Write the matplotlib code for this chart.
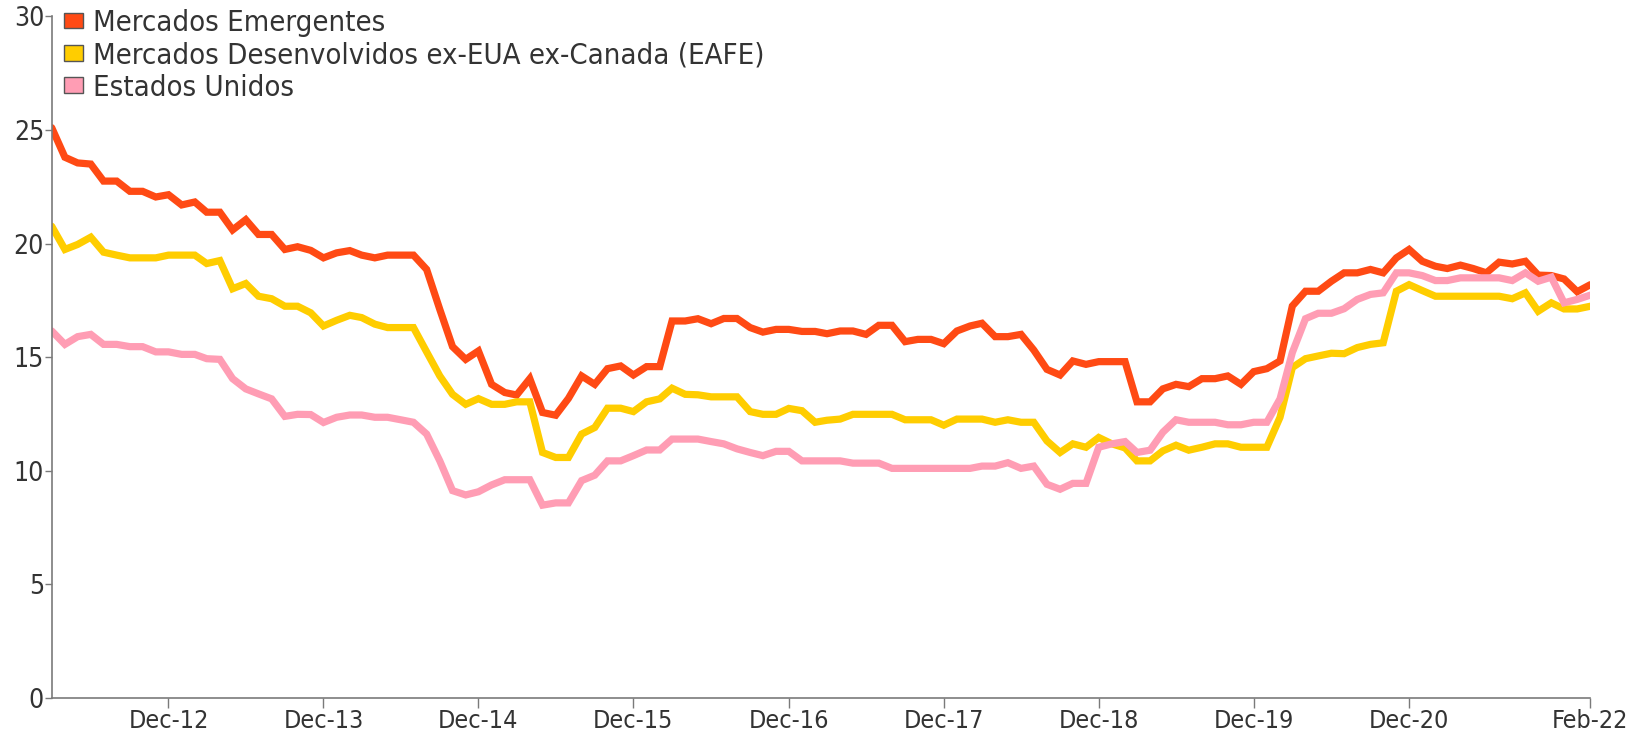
import numpy as np
import pandas as pd
import matplotlib
matplotlib.use("Agg")
import matplotlib.pyplot as plt
from matplotlib.patches import Patch

plt.rcParams['font.family'] = ['DejaVu Sans']
plt.rcParams['font.stretch'] = 'condensed'

# meses: Mar-2012 ate Feb-2022
datas = pd.date_range('2012-03-01', periods=120, freq='MS')

emergentes = [
    25.1, 23.8, 23.55, 23.5, 22.75, 22.75, 22.3, 22.3, 22.05, 22.15,
    21.7, 21.83, 21.38, 21.38, 20.6, 21.05, 20.4, 20.4, 19.74, 19.86,
    19.7, 19.37, 19.59, 19.69, 19.49, 19.37, 19.49, 19.49, 19.49, 18.86,
    17.1, 15.46, 14.9, 15.27, 13.8, 13.44, 13.33, 14.05, 12.56, 12.44,
    13.18, 14.17, 13.8, 14.49, 14.61, 14.21, 14.58, 14.58, 16.59, 16.59,
    16.69, 16.47, 16.7, 16.7, 16.3, 16.1, 16.22, 16.22, 16.13, 16.13,
    16.03, 16.15, 16.15, 16.0, 16.4, 16.4, 15.68, 15.78, 15.78, 15.59,
    16.15, 16.37, 16.49, 15.9, 15.9, 16.0, 15.31, 14.46, 14.21, 14.83,
    14.68, 14.8, 14.8, 14.8, 13.03, 13.03, 13.6, 13.8, 13.7, 14.05,
    14.05, 14.17, 13.8, 14.36, 14.49, 14.83, 17.25, 17.9, 17.9, 18.34,
    18.71, 18.71, 18.86, 18.71, 19.37, 19.74, 19.22, 19.0, 18.9, 19.05,
    18.9, 18.71, 19.18, 19.1, 19.22, 18.61, 18.59, 18.44, 17.88, 18.19,
]

eafe = [
    20.76, 19.74, 19.96, 20.28, 19.62, 19.49, 19.37, 19.37, 19.37, 19.49,
    19.49, 19.49, 19.12, 19.25, 18.01, 18.24, 17.68, 17.57, 17.24, 17.24,
    16.95, 16.37, 16.62, 16.84, 16.74, 16.45, 16.3, 16.3, 16.3, 15.23,
    14.17, 13.36, 12.92, 13.17, 12.92, 12.92, 13.03, 13.03, 10.8, 10.58,
    10.58, 11.61, 11.9, 12.75, 12.75, 12.6, 13.03, 13.16, 13.63, 13.36,
    13.34, 13.25, 13.25, 13.25, 12.6, 12.48, 12.48, 12.74, 12.64, 12.13,
    12.22, 12.27, 12.48, 12.48, 12.48, 12.48, 12.24, 12.24, 12.24, 12.0,
    12.27, 12.27, 12.27, 12.13, 12.24, 12.13, 12.13, 11.31, 10.8, 11.18,
    11.03, 11.46, 11.18, 11.0, 10.43, 10.43, 10.87, 11.12, 10.9, 11.03,
    11.18, 11.18, 11.03, 11.03, 11.03, 12.35, 14.54, 14.93, 15.05, 15.17,
    15.15, 15.42, 15.56, 15.63, 17.9, 18.19, 17.93, 17.68, 17.68, 17.68,
    17.68, 17.68, 17.68, 17.57, 17.83, 17.02, 17.39, 17.12, 17.12, 17.24,
]

eua = [
    16.15, 15.56, 15.9, 16.0, 15.56, 15.56, 15.46, 15.46, 15.23, 15.23,
    15.12, 15.12, 14.93, 14.9, 14.05, 13.6, 13.38, 13.16, 12.39, 12.48,
    12.47, 12.12, 12.35, 12.45, 12.45, 12.35, 12.35, 12.24, 12.13, 11.61,
    10.43, 9.12, 8.93, 9.07, 9.37, 9.6, 9.6, 9.6, 8.48, 8.58,
    8.58, 9.56, 9.8, 10.43, 10.43, 10.66, 10.91, 10.91, 11.39, 11.39,
    11.39, 11.28, 11.18, 10.96, 10.8, 10.66, 10.85, 10.85, 10.43, 10.43,
    10.43, 10.43, 10.33, 10.33, 10.33, 10.1, 10.1, 10.1, 10.1, 10.1,
    10.1, 10.1, 10.2, 10.2, 10.35, 10.1, 10.2, 9.4, 9.18, 9.44,
    9.44, 11.03, 11.18, 11.28, 10.8, 10.9, 11.69, 12.24, 12.13, 12.13,
    12.13, 12.02, 12.02, 12.13, 12.13, 13.16, 15.2, 16.69, 16.93, 16.93,
    17.13, 17.54, 17.76, 17.83, 18.71, 18.71, 18.59, 18.37, 18.37, 18.49,
    18.49, 18.49, 18.49, 18.37, 18.71, 18.34, 18.52, 17.39, 17.54, 17.73,
]

nomes = ['Mercados Emergentes',
         'Mercados Desenvolvidos ex-EUA ex-Canada (EAFE)',
         'Estados Unidos']
cores = ['#FF4A14', '#FFCD00', '#FF9DB4']

tick_datas = pd.to_datetime(['2012-12-01', '2013-12-01', '2014-12-01', '2015-12-01',
                             '2016-12-01', '2017-12-01', '2018-12-01', '2019-12-01',
                             '2020-12-01', '2022-02-01'])
tick_labels = ['Dec-12', 'Dec-13', 'Dec-14', 'Dec-15', 'Dec-16',
               'Dec-17', 'Dec-18', 'Dec-19', 'Dec-20', 'Feb-22']

fig = plt.figure(figsize=(16.32, 7.31), dpi=100)
ax = fig.add_axes([0.0317, 0.0455, 0.9428, 0.932])

for serie, cor in zip([emergentes, eafe, eua], cores):
    ax.plot(datas, serie, color=cor, lw=5.2, solid_joinstyle='miter', solid_capstyle='round')

ax.set_xlim(datas[0], datas[-1])
ax.set_ylim(0, 30)
ax.set_yticks(range(0, 31, 5))
ax.set_xticks(tick_datas)
ax.set_xticklabels(tick_labels)

for s in ['top', 'right']:
    ax.spines[s].set_visible(False)
for s in ['left', 'bottom']:
    ax.spines[s].set_color('#7a7a7a')
    ax.spines[s].set_linewidth(1.2)
ax.tick_params(axis='y', length=5, width=1, color='#7a7a7a', labelsize=19,
               labelcolor='#333333', pad=0.5)
ax.tick_params(axis='x', length=7, width=1, color='#7a7a7a', labelsize=18,
               labelcolor='#333333', pad=1)

handles = [Patch(facecolor=c, edgecolor='#555555', linewidth=1) for c in cores]
ax.legend(handles, nomes, loc='upper left', bbox_to_anchor=(0.0395, 0.988),
          bbox_transform=fig.transFigure, frameon=False, fontsize=21,
          labelcolor='#333333', handlelength=0.65, handleheight=0.45,
          handletextpad=0.32, labelspacing=0.15, borderaxespad=0, borderpad=0)

fig.savefig('out.png', dpi=100)
